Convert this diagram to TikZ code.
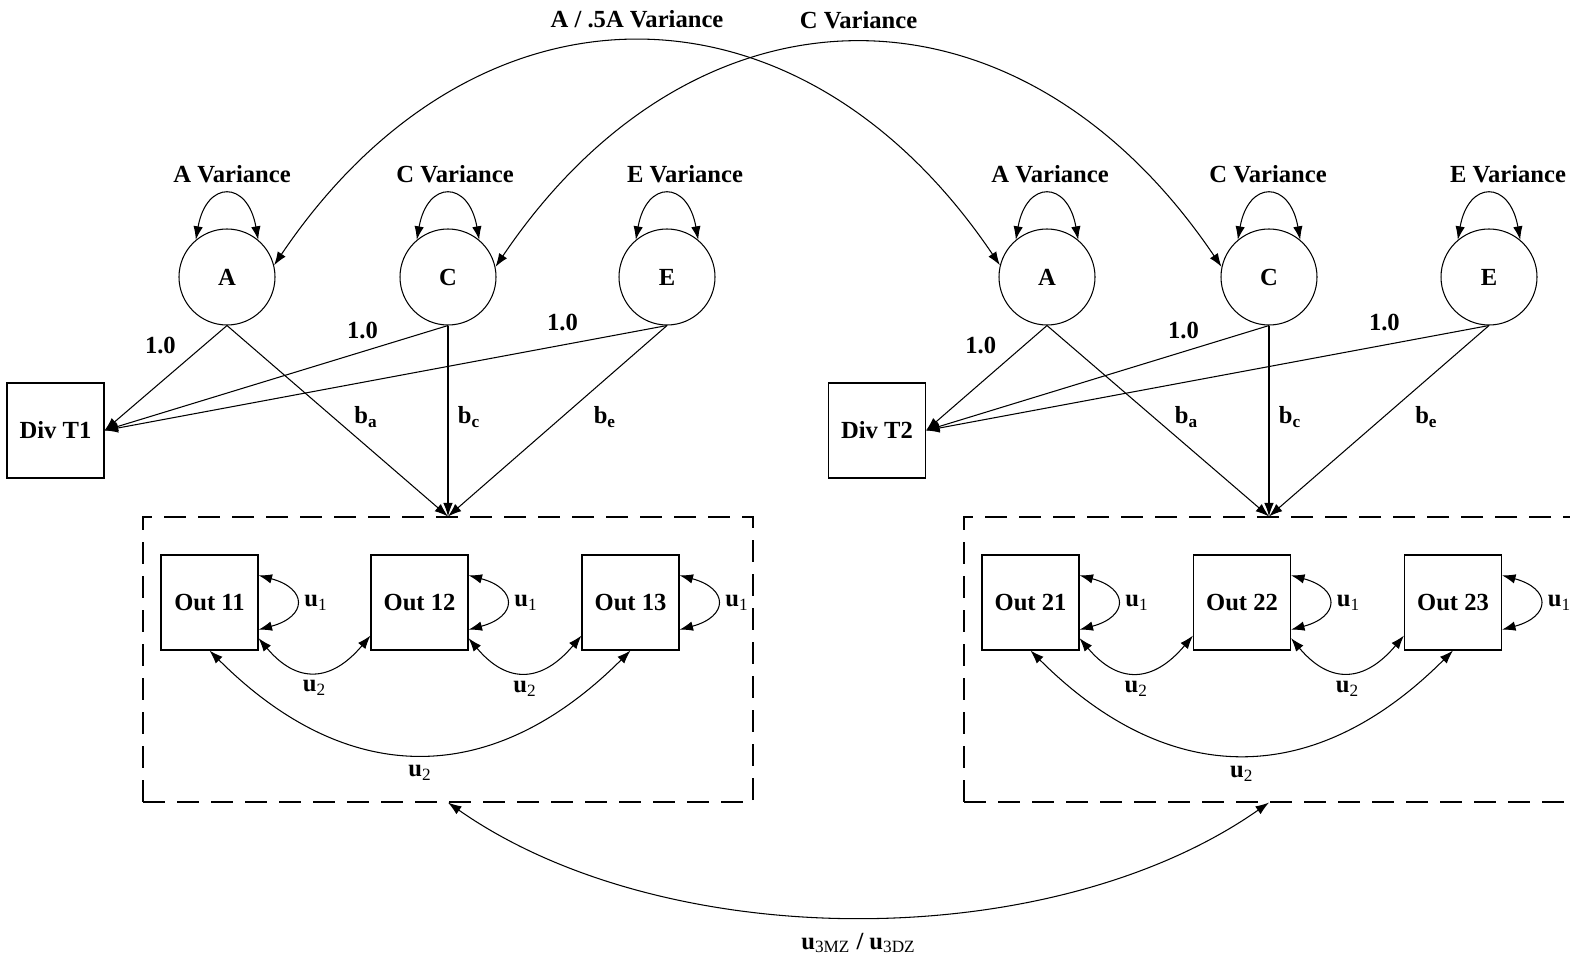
\documentclass[tikz,border=0pt]{standalone}
\usepackage{amsmath}
\usepackage{fontspec}
\setmainfont{Liberation Serif}
\usepackage{tikz}
\usetikzlibrary{arrows.meta,positioning}
\newcommand{\figfont}{\bfseries\fontsize{14}{17}\selectfont}
\tikzset{
  latent/.style={circle,draw,line width=0.6pt,minimum size=1.92cm,inner sep=0pt,font=\figfont},
  manifest/.style={rectangle,draw,line width=0.6pt,minimum width=1.94cm,minimum height=1.9cm,
    inner sep=0pt,font=\figfont},
  groupbox/.style={rectangle,draw,line width=0.6pt,dash pattern=on 0.44cm off 0.24cm,
    minimum width=12.2cm,minimum height=5.7cm},
  varlabel/.style={font=\figfont},
  pathlabel/.style={font=\figfont,inner sep=2pt},
  onearrow/.style={-{Latex[length=0.27cm,width=0.19cm]},line width=0.6pt},
  twoarrow/.style={{Latex[length=0.27cm,width=0.19cm]}-{Latex[length=0.27cm,width=0.19cm]},line width=0.6pt}
}

\begin{document}
\begin{tikzpicture}[x=1cm,y=1cm]
  \useasboundingbox (0,0) rectangle (31.4,-19.14);
  % twin 1
  \node[latent] (A1) at (4.54,-5.54) {A};
  \node[latent] (C1) at (8.96,-5.54) {C};
  \node[latent] (E1) at (13.34,-5.54) {E};
  \node[varlabel] (vA1) at (4.64,-3.48) {A Variance};
  \node[varlabel] (vC1) at (9.10,-3.48) {C Variance};
  \node[varlabel] (vE1) at (13.70,-3.48) {E Variance};
  \node[manifest] (D1) at (1.11,-8.61) {Div T1};
  \node[groupbox] (G1) at (8.96,-13.19) {};
  \node[manifest] (O11) at (4.19,-12.05) {Out 11};
  \node[manifest] (O12) at (8.39,-12.05) {Out 12};
  \node[manifest] (O13) at (12.61,-12.05) {Out 13};
  % twin 2
  \node[latent] (A2) at (20.94,-5.54) {A};
  \node[latent] (C2) at (25.38,-5.54) {C};
  \node[latent] (E2) at (29.78,-5.54) {E};
  \node[varlabel] (vA2) at (21.00,-3.48) {A Variance};
  \node[varlabel] (vC2) at (25.36,-3.48) {C Variance};
  \node[varlabel] (vE2) at (30.16,-3.48) {E Variance};
  \node[manifest] (D2) at (17.54,-8.61) {Div T2};
  \node[groupbox] (G2) at (25.38,-13.19) {};
  \node[manifest] (O21) at (20.61,-12.05) {Out 21};
  \node[manifest] (O22) at (24.84,-12.05) {Out 22};
  \node[manifest] (O23) at (29.06,-12.05) {Out 23};

  % variances of the latent factors
  \foreach \f in {A1,C1,E1,A2,C2,E2}
    \draw[twoarrow] (\f.130) to[out=80,in=100,looseness=2.5] (\f.50);

  % covariances across twins
  \draw[twoarrow] (A1.14) to[out=56,in=124,looseness=1.27]
    node[pathlabel,above=0.2cm] {A / .5A Variance} (A2.166);
  \draw[twoarrow] (C1.12) to[out=56,in=124,looseness=1.27]
    node[pathlabel,above=0.2cm] {C Variance} (C2.168);

  % loadings
  \foreach \t in {1,2} {
    \draw[onearrow] (A\t.south) -- node[pathlabel,pos=.25,xshift=-0.72cm,yshift=0.12cm] {1.0} (D\t.east);
    \draw[onearrow] (C\t.south) -- node[pathlabel,pos=.22,xshift=-0.2cm,yshift=0.36cm] {1.0} (D\t.east);
    \draw[onearrow] (E\t.south) -- node[pathlabel,pos=.2,xshift=0.16cm,yshift=0.48cm] {1.0} (D\t.east);
    \draw[onearrow] (A\t.south) -- node[pathlabel,pos=.48,xshift=0.66cm] {b$_\text{a}$} (G\t.north);
    \draw[onearrow] (C\t.south) -- node[pathlabel,pos=.48,xshift=0.42cm] {b$_\text{c}$} (G\t.north);
    \draw[onearrow] (E\t.south) -- node[pathlabel,pos=.48,xshift=0.86cm] {b$_\text{e}$} (G\t.north);
  }

  % residuals within each twin
  \foreach \t in {1,2} {
    \foreach \k in {1,2,3}
      \draw[twoarrow] (O\t\k.29) to[out=-15,in=15,looseness=2.4]
        node[pathlabel,right=0.1cm] {u$_\text{\mdseries 1}$} (O\t\k.-29);
    \draw[twoarrow] (O\t1.-36) to[out=-50,in=-130,looseness=1.38]
      node[pathlabel,below=0.1cm] {u$_\text{\mdseries 2}$} (O\t2.-146);
    \draw[twoarrow] (O\t2.-36) to[out=-50,in=-130,looseness=1.38]
      node[pathlabel,below=0.1cm] {u$_\text{\mdseries 2}$} (O\t3.-146);
    \draw[twoarrow] (O\t1.south) to[out=-45,in=-135,looseness=1.19]
      node[pathlabel,below=0.15cm] {u$_\text{\mdseries 2}$} (O\t3.south);
  }

  % residual covariance across twins
  \draw[twoarrow] (G1.south) to[out=-35,in=-145,looseness=0.83]
    node[pathlabel,below=0.24cm] {u$_\text{\mdseries 3MZ}$ / u$_\text{\mdseries 3DZ}$} (G2.south);
\end{tikzpicture}
\end{document}
